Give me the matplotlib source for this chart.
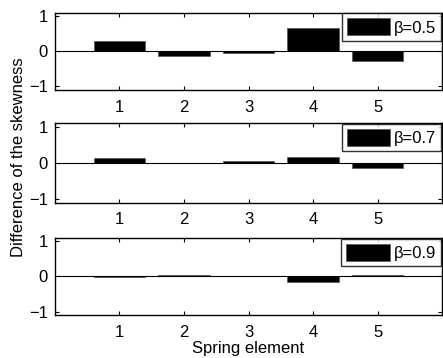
import matplotlib
matplotlib.use("Agg")
import matplotlib.pyplot as plt
import numpy as np

plt.rcParams['font.family'] = ['Liberation Sans', 'DejaVu Sans']
plt.rcParams['font.size'] = 12
plt.rcParams['axes.unicode_minus'] = True

# skewness differences per spring element, one row per beta
elements = [1, 2, 3, 4, 5]
skew_b05 = [0.29, -0.15, -0.04, 0.65, -0.27]
skew_b07 = [0.13, 0.01, 0.06, 0.16, -0.14]
skew_b09 = [-0.02, 0.03, 0.01, -0.15, 0.05]
labels = ["β=0.5", "β=0.7", "β=0.9"]
series = [skew_b05, skew_b07, skew_b09]

fig = plt.figure(figsize=(4.43, 3.58), dpi=100)

# axes boxes [left, bottom, width, height]
boxes = [
    [0.124, 0.749, 0.874, 0.216],
    [0.124, 0.434, 0.874, 0.222],
    [0.124, 0.120, 0.874, 0.216],
]

for box, vals, lab in zip(boxes, series, labels):
    ax = fig.add_axes(box)
    ax.bar(elements, vals, width=0.8, color="black", edgecolor="#555555",
           linewidth=0.5, label=lab, zorder=2)
    ax.axhline(0, color="black", linewidth=0.8, zorder=3)
    ax.set_xlim(0, 6)
    ax.set_ylim(-1.1, 1.1)
    ax.set_xticks(elements)
    ax.set_yticks([-1, 0, 1])
    ax.tick_params(direction="in", top=True, right=True, length=3,
                   width=0.8)
    ax.tick_params(axis="x", pad=7)
    ax.tick_params(axis="y", pad=5)
    for s in ax.spines.values():
        s.set_linewidth(1.0)
    leg = ax.legend(loc="upper right", frameon=True, fancybox=False,
                    handlelength=2.6, handleheight=1.2, handletextpad=0.25,
                    borderpad=0.3, borderaxespad=0.05, fontsize=12)
    leg.get_frame().set_edgecolor("black")
    leg.get_frame().set_linewidth(1.0)
    if lab == labels[-1]:
        ax.set_xlabel("Spring element", labelpad=1)

fig.text(0.041, 0.561, "Difference of the skewness", rotation=90,
         ha="center", va="center", fontsize=12)

fig.savefig("out.png", dpi=100)
